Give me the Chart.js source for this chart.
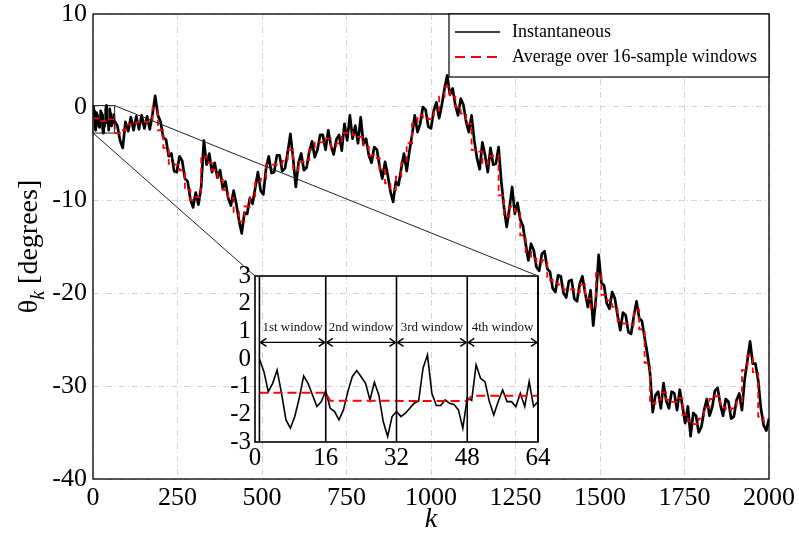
<!DOCTYPE html>
<html>
<head>
<meta charset="utf-8">
<script src="https://cdn.jsdelivr.net/npm/chart.js@4.4.0/dist/chart.umd.min.js"></script>
<style>
  html, body { margin: 0; padding: 0; background: #fff; }
  #wrap { position: relative; width: 799px; height: 535px; }
  #main { position: absolute; left: 0; top: 0; }
  #inset { position: absolute; left: 195px; top: 256px; }
</style>
</head>
<body>
<div id="wrap">
  <canvas id="main" width="799" height="535"></canvas>
  <canvas id="inset" width="357" height="225"></canvas>
</div>
<script>
const seriesNames = ['Instantaneous', 'Average over 16-sample windows'];
const windowLen = 16;
const windowNames = ['1st window', '2nd window', '3rd window', '4th window'];

// theta_k for k = 1..64 (the zoomed part)
const firstSamples = [
  0.0, -0.45, -1.18, -0.88, -0.4, -1.24, -2.2, -2.5, -2.08, -1.42, -0.61, -0.88, -1.3, -1.72, -1.54, -1.15,
  -1.78, -1.9, -2.2, -1.84, -1.18, -0.64, -0.42, -0.64, -0.88, -1.48, -0.84, -1.3, -2.26, -2.8, -2.08, -1.9,
  -2.08, -1.96, -1.78, -1.6, -1.52, -0.33, 0.15, -1.24, -1.68, -1.68, -1.48, -1.6, -1.64, -1.84, -2.5, -1.4,
  -1.5, -0.21, -0.7, -0.82, -1.54, -2.02, -1.54, -1.12, -1.54, -1.54, -1.72, -1.24, -1.72, -0.82, -1.72, -1.54
];

// theta_k read every 8 samples, k = 72, 80, ..., 2000
const sampledTheta = [
  -2.0, -3.6, -4.4, -1.6, -2.6, -1.1, -2.5, -1.0, -2.4, -0.9, -2.3, -1.0, -2.4, -0.8, 1.2, -0.9,
  -1.6, -3.3, -3.5, -5.3, -5.0, -6.9, -7.0, -5.3, -5.8, -7.7, -8.0, -9.9, -10.8, -9.2, -10.5, -8.6,
  -3.6, -6.2, -5.0, -7.0, -6.0, -7.6, -6.8, -8.8, -8.0, -9.8, -10.6, -9.0, -10.4, -12.2, -13.6, -11.4,
  -11.5, -9.8, -10.4, -8.7, -7.0, -9.0, -9.4, -6.6, -5.3, -7.1, -7.0, -5.2, -5.2, -6.9, -6.6, -4.9,
  -2.9, -5.5, -8.6, -6.0, -5.0, -6.8, -6.5, -4.8, -3.7, -5.4, -4.6, -3.0, -3.0, -4.6, -2.5, -4.2,
  -5.1, -3.5, -3.0, -4.7, -1.8, -3.6, -0.9, -3.4, -2.0, -3.9, -1.1, -4.0, -3.4, -5.2, -6.0, -4.3,
  -4.6, -6.4, -7.7, -5.9, -7.3, -9.1, -10.2, -8.0, -8.4, -6.6, -5.0, -6.9, -4.8, -3.0, -0.9, -2.7,
  -1.8, 0.0, -0.3, -2.1, -2.3, -0.4, 0.5, -1.2, 0.2, 2.0, 3.4, 1.3, 2.0, 0.2, -0.9, 0.9,
  0.2, -1.6, -2.7, -0.9, -3.6, -5.5, -6.7, -3.8, -5.2, -7.0, -4.4, -6.2, -6.1, -4.3, -8.0, -10.8,
  -12.9, -10.9, -8.6, -11.5, -10.3, -12.1, -12.8, -14.7, -16.5, -14.7, -15.4, -17.2, -17.6, -15.8, -15.5, -17.4,
  -17.7, -19.5, -19.9, -18.1, -18.2, -20.0, -20.5, -18.7, -18.6, -20.6, -20.9, -19.0, -18.2, -20.0, -21.5, -19.7,
  -23.5, -20.5, -15.9, -18.9, -19.2, -21.1, -21.7, -19.9, -20.6, -22.4, -24.0, -22.1, -22.4, -24.2, -24.4, -22.5,
  -20.9, -22.7, -23.0, -24.8, -26.5, -28.6, -32.8, -31.0, -30.6, -32.4, -29.7, -31.6, -32.4, -30.6, -30.8, -32.6,
  -30.4, -32.2, -34.0, -32.2, -35.4, -32.9, -33.2, -35.0, -34.4, -32.6, -31.4, -33.2, -32.3, -30.5, -30.2, -32.0,
  -33.2, -31.4, -31.7, -33.5, -33.3, -31.5, -30.8, -32.6, -29.3, -27.3, -25.2, -27.6, -27.6, -29.4, -32.4, -34.2,
  -34.8, -33.5
];

// mean of each 16-sample window (125 windows)
const windowAvg = [
  -1.22, -1.51, -1.52, -1.33, -2.8, -2.5, -1.9, -1.75, -1.65, -1.6,
  -1.6, -0.1, -2.5, -4.4, -6.1, -6.2, -6.8, -8.9, -10.0, -9.7,
  -5.3, -6.0, -6.8, -7.8, -8.9, -9.8, -11.3, -12.3, -10.7, -9.6,
  -8.0, -7.7, -6.2, -6.2, -6.1, -5.8, -4.6, -6.8, -5.9, -5.7,
  -4.6, -3.8, -3.8, -3.4, -4.3, -3.9, -2.8, -2.7, -3.0, -3.2,
  -4.3, -5.2, -5.5, -6.8, -8.2, -8.9, -7.5, -6.0, -3.9, -1.8,
  -0.9, -1.2, -1.3, -0.4, 1.1, 2.2, 1.1, 0.0, -0.7, -1.8,
  -4.6, -4.8, -6.1, -5.3, -5.2, -9.5, -11.8, -10.7, -11.2, -13.8,
  -15.6, -16.3, -16.7, -16.5, -18.6, -19.0, -19.1, -19.6, -19.6, -19.9,
  -19.1, -20.6, -21.6, -17.9, -20.2, -20.8, -21.5, -23.0, -23.3, -23.4,
  -21.8, -23.9, -27.5, -31.9, -31.5, -30.7, -31.5, -31.7, -31.3, -33.1,
  -33.8, -34.1, -33.5, -32.3, -31.4, -31.1, -32.3, -32.6, -32.4, -31.7,
  -28.3, -26.7, -28.5, -33.3, -33.8
];

const serif = "'Liberation Serif', 'Times New Roman', serif";

// build points
const blackPts = firstSamples.map((v, i) => ({x: i + 1, y: v}))
  .concat(sampledTheta.map((v, j) => ({x: 72 + 8 * j, y: v})));
const redPts = windowAvg.map((v, i) => ({x: i * windowLen, y: v}));
redPts.push({x: windowAvg.length * windowLen, y: windowAvg[windowAvg.length - 1]});

const insetBlack = firstSamples.map((v, i) => ({x: i + 1, y: v}));
const insetRed = firstSamples.map((v, i) => ({x: i + 1, y: windowAvg[Math.floor(i / windowLen)]}));

const plainNum = v => String(v);

// ---------- inset ----------
const insetDecor = {
  id: 'insetDecor',
  afterDraw(chart) {
    const ctx = chart.ctx, ca = chart.chartArea;
    const xs = chart.scales.x, ys = chart.scales.y;
    ctx.save();
    ctx.strokeStyle = '#000';
    ctx.lineWidth = 1.6;
    ctx.strokeRect(ca.left, ca.top, ca.right - ca.left, ca.bottom - ca.top);
    const edges = [1, 16, 32, 48, 64];
    edges.forEach(k => {
      const x = xs.getPixelForValue(k);
      ctx.beginPath(); ctx.moveTo(x, ca.top); ctx.lineTo(x, ca.bottom); ctx.stroke();
    });
    const ya = ys.getPixelForValue(0.6);
    const yt = ys.getPixelForValue(1.15);
    ctx.lineWidth = 1.4;
    ctx.font = '13px ' + serif;
    ctx.fillStyle = '#111';
    ctx.textAlign = 'center';
    ctx.textBaseline = 'middle';
    for (let i = 0; i < 4; i++) {
      const x0 = xs.getPixelForValue(edges[i]) + 1;
      const x1 = xs.getPixelForValue(edges[i + 1]) - 1;
      ctx.beginPath();
      ctx.moveTo(x0, ya); ctx.lineTo(x1, ya);
      ctx.moveTo(x0 + 6, ya - 4); ctx.lineTo(x0, ya); ctx.lineTo(x0 + 6, ya + 4);
      ctx.moveTo(x1 - 6, ya - 4); ctx.lineTo(x1, ya); ctx.lineTo(x1 - 6, ya + 4);
      ctx.stroke();
      ctx.fillText(windowNames[i], (x0 + x1) / 2, yt);
    }
    ctx.restore();
  }
};

const insetChart = new Chart(document.getElementById('inset'), {
  type: 'line',
  data: {
    datasets: [
      {data: insetBlack, borderColor: '#000', borderWidth: 1.6, pointRadius: 0, tension: 0, order: 2},
      {data: insetRed, borderColor: '#ff0000', borderWidth: 2, borderDash: [9, 5], pointRadius: 0, tension: 0, order: 1}
    ]
  },
  options: {
    responsive: false,
    animation: false,
    layout: {padding: {left: 0, top: 20, right: 14, bottom: 0}},
    plugins: {legend: {display: false}, tooltip: {enabled: false}},
    scales: {
      x: {
        type: 'linear', min: 0, max: 64,
        ticks: {stepSize: 16, autoSkip: false, maxRotation: 0, padding: 1, color: '#000',
                font: {family: serif, size: 25}, callback: plainNum},
        grid: {display: false, drawTicks: false},
        border: {display: false},
        afterFit: s => { s.height = 39; s.paddingLeft = 0; s.paddingRight = 0; }
      },
      y: {
        min: -3, max: 3,
        ticks: {stepSize: 1, autoSkip: false, padding: 4, color: '#000',
                font: {family: serif, size: 25}, callback: plainNum},
        grid: {display: false, drawTicks: false},
        border: {display: false},
        afterFit: s => { s.width = 60; s.paddingTop = 0; s.paddingBottom = 0; }
      }
    }
  },
  plugins: [insetDecor]
});

// ---------- main ----------
const mainDecor = {
  id: 'mainDecor',
  afterDraw(chart) {
    const ctx = chart.ctx, ca = chart.chartArea;
    const xs = chart.scales.x, ys = chart.scales.y;
    ctx.save();
    ctx.strokeStyle = '#000';
    ctx.lineWidth = 1.3;
    ctx.strokeRect(ca.left, ca.top, ca.right - ca.left, ca.bottom - ca.top);

    // zoom box and the lines to the inset
    const lo = Math.min(...firstSamples), hi = Math.max(...firstSamples);
    const bx0 = xs.getPixelForValue(0), bx1 = xs.getPixelForValue(firstSamples.length);
    const by0 = ys.getPixelForValue(hi), by1 = ys.getPixelForValue(lo);
    ctx.lineWidth = 1;
    ctx.strokeStyle = '#222';
    ctx.strokeRect(bx0, by0, bx1 - bx0, by1 - by0);
    const ic = insetChart.chartArea, cv = insetChart.canvas;
    const ix0 = cv.offsetLeft + ic.left, ix1 = cv.offsetLeft + ic.right, iy = cv.offsetTop + ic.top;
    ctx.beginPath();
    ctx.moveTo(bx1, by0); ctx.lineTo(ix1, iy);
    ctx.moveTo(bx0, by1); ctx.lineTo(ix0, iy);
    ctx.stroke();

    // legend
    const ds = chart.data.datasets;
    const lw = 320, lh = 63;
    const lx = ca.right - lw, ly = ca.top;
    ctx.fillStyle = '#fff';
    ctx.fillRect(lx, ly, lw, lh);
    ctx.strokeStyle = '#000';
    ctx.lineWidth = 1.2;
    ctx.strokeRect(lx, ly, lw, lh);
    ctx.font = '18px ' + serif;
    ctx.textBaseline = 'middle';
    ctx.textAlign = 'left';
    [0, 1].forEach(i => {
      const y = ly + 18 + i * 25;
      ctx.strokeStyle = ds[i].borderColor;
      ctx.lineWidth = i === 1 ? 1.8 : 1.4;
      ctx.setLineDash(i === 1 ? [10, 6] : []);
      ctx.beginPath(); ctx.moveTo(lx + 6, y); ctx.lineTo(lx + 51, y); ctx.stroke();
      ctx.setLineDash([]);
      ctx.fillStyle = '#000';
      ctx.fillText(seriesNames[i], lx + 63, y);
    });

    // axis titles
    ctx.fillStyle = '#000';
    ctx.font = 'italic 28px ' + serif;
    ctx.textAlign = 'center';
    ctx.textBaseline = 'middle';
    ctx.fillText('k', (ca.left + ca.right) / 2, 520);

    ctx.translate(28, (ca.top + ca.bottom) / 2);
    ctx.rotate(-Math.PI / 2);
    const f1 = '28px ' + serif, f2 = 'italic 20px ' + serif;
    ctx.textAlign = 'left';
    ctx.textBaseline = 'alphabetic';
    ctx.font = f1;
    const w1 = ctx.measureText('\u03b8').width, w3 = ctx.measureText(' [degrees]').width;
    ctx.font = f2;
    const w2 = ctx.measureText('k').width;
    let x = -(w1 + w2 + w3) / 2;
    ctx.font = f1; ctx.fillText('\u03b8', x, 9); x += w1;
    ctx.font = f2; ctx.fillText('k', x, 16); x += w2;
    ctx.font = f1; ctx.fillText(' [degrees]', x, 9);
    ctx.restore();
  }
};

const mainChart = new Chart(document.getElementById('main'), {
  type: 'line',
  data: {
    datasets: [
      {label: seriesNames[0], data: blackPts, borderColor: '#000', borderWidth: 2.7, pointRadius: 0, tension: 0,
       borderJoinStyle: 'round', order: 2},
      {label: seriesNames[1], data: redPts, borderColor: '#ff0000', borderWidth: 1.8, borderDash: [6, 4],
       pointRadius: 0, stepped: 'before', order: 1}
    ]
  },
  options: {
    responsive: false,
    animation: false,
    layout: {padding: {left: 0, top: 14, right: 30, bottom: 0}},
    plugins: {legend: {display: false}, tooltip: {enabled: false}},
    scales: {
      x: {
        type: 'linear', min: 0, max: 2000,
        ticks: {stepSize: 250, autoSkip: false, maxRotation: 0, padding: 4, color: '#000',
                font: {family: serif, size: 26}, callback: plainNum},
        grid: {color: '#d4d4d4', lineWidth: 1, drawTicks: false},
        border: {display: false, dash: [6, 3, 1, 3]},
        afterFit: s => { s.height = 56; s.paddingLeft = 0; s.paddingRight = 0; }
      },
      y: {
        min: -40, max: 10,
        ticks: {stepSize: 10, autoSkip: false, padding: 6, color: '#000',
                font: {family: serif, size: 26}, callback: plainNum},
        grid: {color: '#d4d4d4', lineWidth: 1, drawTicks: false},
        border: {display: false, dash: [6, 3, 1, 3]},
        afterFit: s => { s.width = 93; s.paddingTop = 0; s.paddingBottom = 0; }
      }
    }
  },
  plugins: [mainDecor]
});
</script>
</body>
</html>
